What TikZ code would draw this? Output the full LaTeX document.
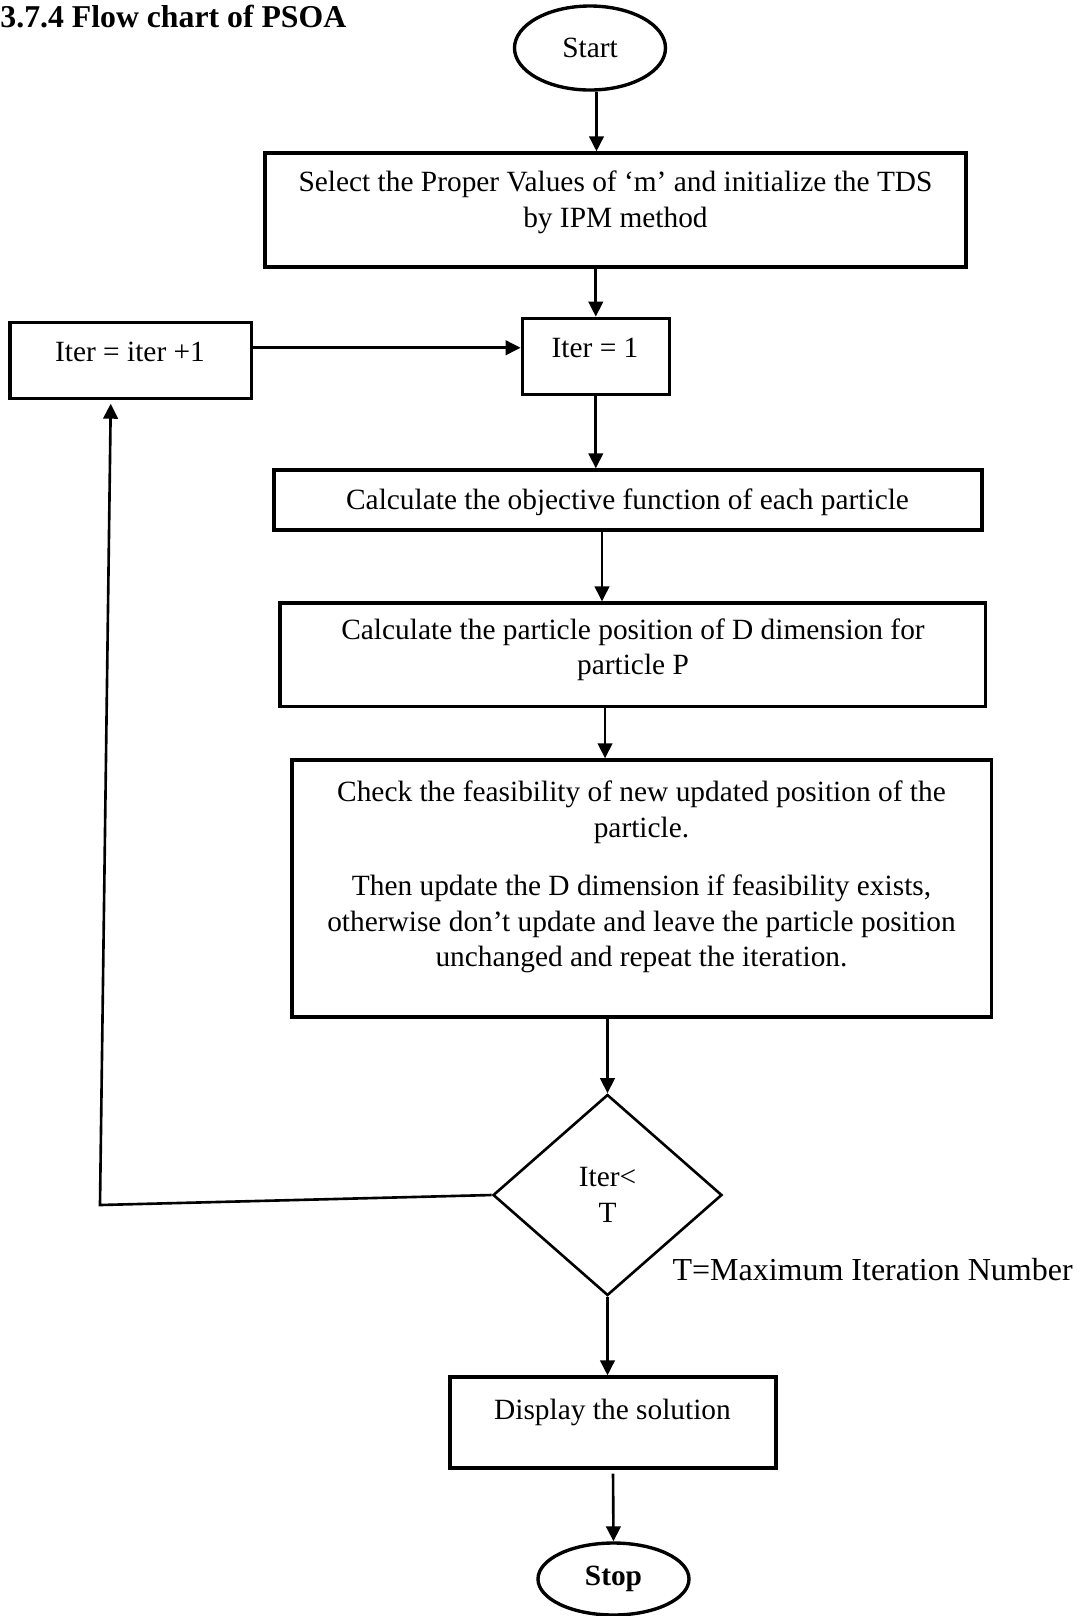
\documentclass[tikz,border=0pt]{standalone}
\usepackage{fontspec}
\setmainfont{Liberation Serif}
\usetikzlibrary{arrows.meta,shapes.geometric}
\begin{document}
\begin{tikzpicture}[x=0.4pt,y=-0.4pt,
  every node/.style={font=\fontsize{11.75}{14.2}\selectfont, inner sep=0pt},
  boxshape/.style={draw, rectangle, line width=1.35pt},
  ovalshape/.style={draw, ellipse, line width=1.35pt},
  txt/.style={align=center},
  arr/.style={line width=1.05pt, -{Triangle[length=6pt,width=5.8pt]}}]
\useasboundingbox (0,0) rectangle (1077,1616);

% title
\node[anchor=base west, font=\fontsize{12.7}{15}\selectfont\bfseries] (title) at (0,27) {3.7.4 Flow chart of PSOA};

% nodes
\node[ovalshape, minimum width=60.4pt, minimum height=33.6pt] (start) at (590,48) {Start};

\node[boxshape, minimum width=280.4pt, minimum height=45.6pt] (b1) at (615.5,210) {};
\node[txt] (b1t) at (615.5,202.5) {Select the Proper Values of ‘m’ and initialize the TDS\\by IPM method};

\node[boxshape, minimum width=58.8pt, minimum height=30.4pt] (i1) at (595.8,356.3) {};
\node[txt] (i1t) at (595,348) {Iter = 1};

\node[boxshape, minimum width=96.7pt, minimum height=30.2pt] (inc) at (130.8,360.5) {};
\node[txt] (inct) at (130,351.7) {Iter = iter +1};

\node[boxshape, minimum width=283.2pt, minimum height=24pt] (c1) at (628,500) {};
\node[txt] (c1t) at (627.5,502) {Calculate the objective function of each particle};

\node[boxshape, minimum width=282.3pt, minimum height=41.4pt] (c2) at (632.8,654.8) {};
\node[txt] (c2t) at (633,650) {Calculate the particle position of D dimension for\\particle P};

\node[boxshape, minimum width=279.8pt, minimum height=102.8pt] (chk) at (641.8,888.5) {};
\node[txt] (chkt) at (641.5,877) {Check the feasibility of new updated position of the\\particle.\\[9.2pt]Then update the D dimension if feasibility exists,\\otherwise don’t update and leave the particle position\\unchanged and repeat the iteration.};

\node[draw, diamond, line width=1.05pt, minimum width=91.6pt, minimum height=80.4pt, align=center] (dec) at (607.5,1195) {Iter<\\T};

\node[anchor=west, font=\fontsize{12.8}{15}\selectfont] (tlab) at (672,1270) {T=Maximum Iteration Number};

\node[boxshape, minimum width=130.4pt, minimum height=36.4pt] (disp) at (613,1422.5) {};
\node[txt] (dispt) at (612.5,1412) {Display the solution};

\node[ovalshape, minimum width=60.4pt, minimum height=28.8pt, font=\fontsize{11.75}{14.2}\selectfont\bfseries] (stop) at (613.5,1579) {Stop};

\coordinate (fb) at (100,1205);

% connectors
\draw[arr] ([xshift=2.6pt]start.south) -- ([xshift=2.6pt]start.south |- b1.north);
\draw[arr] (b1.south -| i1.north) -- (i1.north);
\draw[arr] ([yshift=5.1pt]inc.east) -- ([yshift=5.1pt]inc.east -| i1.west);
\draw[arr] (i1.south) -- (i1.south |- c1.north);
\draw[arr] ([xshift=-10.4pt]c1.south) -- ([xshift=-10.4pt]c1.south |- c2.north);
\draw[arr] ([xshift=-11.1pt]c2.south) -- ([xshift=-11.1pt]c2.south |- chk.north);
\draw[arr] (chk.south -| dec.north) -- (dec.north);
\draw[arr] (dec.south) -- (dec.south |- disp.north);
\draw[arr, shorten <=1.6pt] (disp.south) -- (stop.north);
\draw[arr, shorten >=1.5pt] (dec.west) -- (fb) -- ([xshift=-8pt]inc.south);
\end{tikzpicture}
\end{document}
